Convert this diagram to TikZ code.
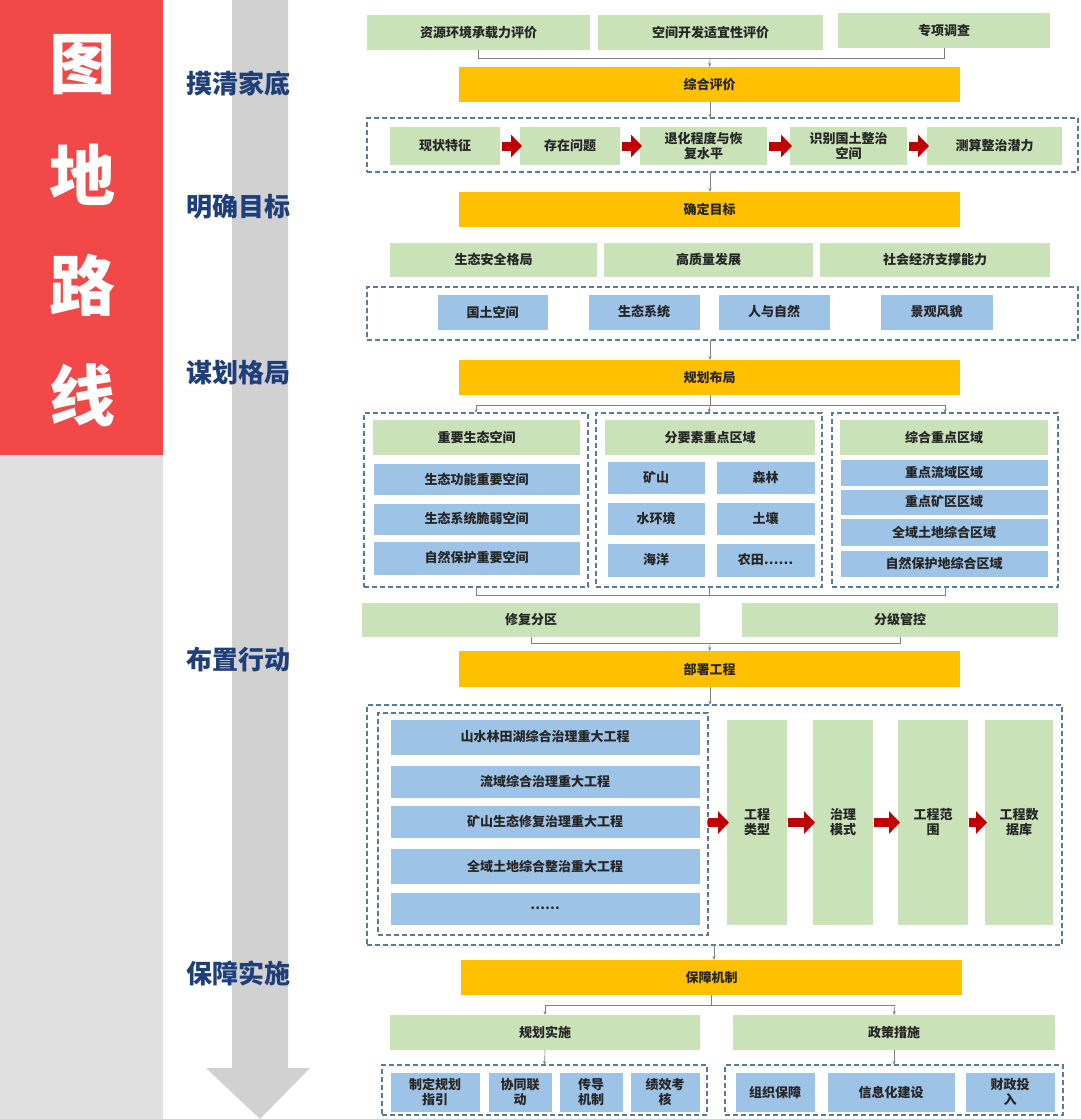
\documentclass[tikz,border=0pt]{standalone}
\usepackage{fontspec}
\setmainfont{Noto Sans CJK SC}
\usetikzlibrary{arrows.meta}
\definecolor{gbox}{HTML}{C9E2B8}
\definecolor{obox}{HTML}{FFC000}
\definecolor{bbox}{HTML}{9DC3E6}
\definecolor{dash}{HTML}{5B7A99}
\definecolor{redp}{HTML}{F24848}
\definecolor{stage}{HTML}{1F3F7A}
\definecolor{arr}{HTML}{C00000}
\tikzset{
 bx/.style={inner sep=1pt,outer sep=0pt,align=center,font=\bfseries\fontsize{13}{15}\selectfont,text=black!85},
 gb/.style={bx,fill=gbox},
 ob/.style={bx,fill=obox},
 bb/.style={bx,fill=bbox,draw=white,line width=0.6pt},
 db/.style={bx,draw=dash,dashed,line width=1.3pt,dash pattern=on 5pt off 3pt},
 con/.style={draw=gray,line width=0.6pt},
 cona/.style={con,-{Stealth[length=4pt,width=3pt]}},
 rarr/.style={draw=arr,line width=9pt,-{Triangle[length=11pt,width=22pt]},shorten >=-2pt},
 stg/.style={font=\bfseries\fontsize{26}{28}\selectfont,text=stage,anchor=west},
}
\newcommand\bx[7]{\node[#2,minimum width={(#5-#3)*1pt},minimum height={(#6-#4)*1pt},text width={(#5-#3-6)*1pt}] (#1) at ({(#3+#5)/2},{(#4+#6)/2}) {#7};}
\begin{document}
\begin{tikzpicture}[x=1pt,y=-1pt]
\useasboundingbox (0,0) rectangle (1080,1119);
\fill[white] (0,0) rectangle (1080,1119);
\fill[black!12] (0,455) rectangle (163,1119);
\fill[redp] (0,0) rectangle (163,455);
\foreach \c/\y in {图/65,地/175,路/285,线/395}
  \node[text=white,font=\bfseries\fontsize{66}{66}\selectfont] (t\y) at (82,\y) {\c};
\fill[black!18] (232,0) rectangle (288,1068) -- (310,1068) -- (260,1119) -- (206,1068) -- (232,1068);
\node[stg] (s1) at (183,83) {摸清家底};
\node[stg] (s2) at (183,207) {明确目标};
\node[stg] (s3) at (183,373) {谋划格局};
\node[stg] (s4) at (183,660) {布置行动};
\node[stg] (s5) at (183,973) {保障实施};
\coordinate (cx) at (710,0);
% stage 1
\bx{a1}{gb}{367}{15}{590}{50}{资源环境承载力评价}
\bx{a2}{gb}{598}{15}{823}{50}{空间开发适宜性评价}
\bx{a3}{gb}{838}{13}{1050}{48}{专项调查}
\bx{zh}{ob}{459}{67}{960}{102}{综合评价}
\draw[con] (a1.south) -- ++(0,8) -| (a3.south);
\draw[cona] (710,58) -- (zh.north);
\bx{d1}{db}{367}{118}{1078}{172}{}
\bx{b1}{gb}{390}{127}{500}{165}{现状特征}
\bx{b2}{gb}{520}{127}{620}{165}{存在问题}
\bx{b3}{gb}{640}{127}{767}{165}{退化程度与恢\\复水平}
\bx{b4}{gb}{790}{127}{907}{165}{识别国土整治\\空间}
\bx{b5}{gb}{927}{127}{1062}{165}{测算整治潜力}
\foreach \p/\q in {b1/b2,b2/b3,b3/b4,b4/b5} \draw[rarr] ([xshift=2pt]\p.east) -- (\q.west);
\draw[cona] (cx|-zh.south) -- (cx|-d1.north);
% stage 2
\bx{qd}{ob}{459}{192}{960}{227}{确定目标}
\draw[cona] (cx|-d1.south) -- (cx|-qd.north);
\bx{c1}{gb}{390}{243}{597}{277}{生态安全格局}
\bx{c2}{gb}{604}{243}{813}{277}{高质量发展}
\bx{c3}{gb}{820}{243}{1050}{277}{社会经济支撑能力}
\bx{d2}{db}{367}{287}{1078}{340}{}
\bx{e1}{bb}{437}{294}{548}{330}{国土空间}
\bx{e2}{bb}{588}{294}{700}{330}{生态系统}
\bx{e3}{bb}{718}{294}{830}{330}{人与自然}
\bx{e4}{bb}{880}{294}{993}{330}{景观风貌}
% stage 3
\bx{gh}{ob}{459}{360}{960}{395}{规划布局}
\draw[cona] (cx|-d2.south) -- (cx|-gh.north);
\bx{dA}{db}{364}{413}{588}{587}{}
\bx{dB}{db}{596}{413}{822}{587}{}
\bx{dC}{db}{832}{413}{1058}{587}{}
\draw[con] (cx|-gh.south) -- (710,405);
\draw[con] (476,405) -- (945,405);
\draw[cona] (476,405) -- (dA.north);
\draw[cona] (710,405) -- (dB.north);
\draw[cona] (945,405) -- (dC.north);
\bx{A0}{gb}{373}{420}{580}{455}{重要生态空间}
\bx{A1}{bb}{373}{463}{580}{495}{生态功能重要空间}
\bx{A2}{bb}{373}{503}{580}{535}{生态系统脆弱空间}
\bx{A3}{bb}{373}{541}{580}{575}{自然保护重要空间}
\bx{B0}{gb}{605}{420}{815}{455}{分要素重点区域}
\bx{B1}{bb}{607}{461}{705}{494}{矿山}
\bx{B2}{bb}{716}{461}{815}{494}{森林}
\bx{B3}{bb}{607}{502}{705}{535}{水环境}
\bx{B4}{bb}{716}{502}{815}{535}{土壤}
\bx{B5}{bb}{607}{543}{705}{577}{海洋}
\bx{B6}{bb}{716}{543}{815}{577}{农田……}
\bx{C0}{gb}{840}{420}{1048}{455}{综合重点区域}
\bx{C1}{bb}{840}{459}{1048}{486}{重点流域区域}
\bx{C2}{bb}{840}{489}{1048}{515}{重点矿区区域}
\bx{C3}{bb}{840}{518}{1048}{546}{全域土地综合区域}
\bx{C4}{bb}{840}{550}{1048}{577}{自然保护地综合区域}
\draw[con] (dA.south) -- ++(0,8) -| (dC.south);
\draw[con] (dB.south) -- ++(0,8);
\bx{f1}{gb}{362}{603}{700}{637}{修复分区}
\bx{f2}{gb}{742}{603}{1058}{637}{分级管控}
% stage 4
\bx{bs}{ob}{459}{651}{960}{687}{部署工程}
\draw[con] (f1.south) -- ++(0,6) -| (f2.south);
\draw[cona] (710,643) -- (bs.north);
\bx{d4}{db}{367}{705}{1062}{945}{}
\bx{d4i}{db}{378}{713}{708}{935}{}
\draw[cona] (cx|-bs.south) -- (cx|-d4.north);
\bx{g1}{bb}{390}{719}{700}{755}{山水林田湖综合治理重大工程}
\bx{g2}{bb}{390}{765}{700}{798}{流域综合治理重大工程}
\bx{g3}{bb}{390}{805}{700}{838}{矿山生态修复治理重大工程}
\bx{g4}{bb}{390}{848}{700}{884}{全域土地综合整治重大工程}
\bx{g5}{bb}{390}{892}{700}{925}{……}
\bx{h1}{gb}{727}{720}{787}{925}{工程\\类型}
\bx{h2}{gb}{813}{720}{873}{925}{治理\\模式}
\bx{h3}{gb}{898}{720}{968}{925}{工程范\\围}
\bx{h4}{gb}{985}{720}{1053}{925}{工程数\\据库}
\draw[rarr] (d4i.east|-h1.west) -- (h1.west);
\foreach \p/\q in {h1/h2,h2/h3,h3/h4} \draw[rarr] ([xshift=1pt]\p.east) -- (\q.west);
% stage 5
\bx{bz}{ob}{461}{960}{962}{995}{保障机制}
\draw[cona] (714,945) -- (714,960);
\bx{k1}{gb}{390}{1015}{700}{1050}{规划实施}
\bx{k2}{gb}{733}{1015}{1055}{1050}{政策措施}
\draw[con] (bz.south) -- ++(0,10);
\draw[con] (545,1005) -- (895,1005);
\draw[cona] (545,1005) -- (k1.north);
\draw[cona] (895,1005) -- (k2.north);
\bx{m1}{db}{382}{1065}{707}{1115}{}
\bx{m2}{db}{725}{1065}{1063}{1115}{}
\draw[cona] (k1.south) -- (m1.north);
\draw[cona] (k2.south) -- (m2.north);
\bx{n1}{bb}{390}{1072}{480}{1112}{制定规划\\指引}
\bx{n2}{bb}{488}{1072}{552}{1112}{协同联\\动}
\bx{n3}{bb}{559}{1072}{623}{1112}{传导\\机制}
\bx{n4}{bb}{630}{1072}{700}{1112}{绩效考\\核}
\bx{p1}{bb}{735}{1072}{815}{1112}{组织保障}
\bx{p2}{bb}{827}{1072}{955}{1112}{信息化建设}
\bx{p3}{bb}{965}{1072}{1055}{1112}{财政投\\入}
\end{tikzpicture}
\end{document}
